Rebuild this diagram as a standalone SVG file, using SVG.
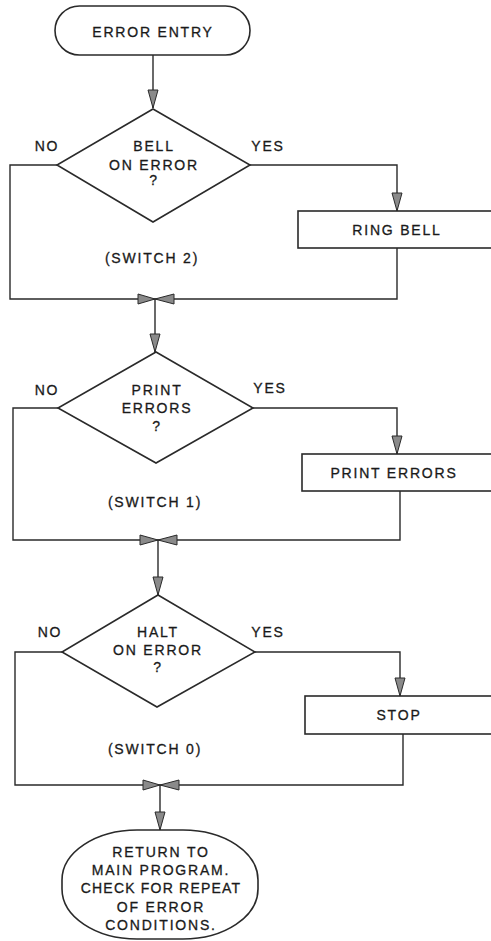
<svg xmlns="http://www.w3.org/2000/svg" width="491" height="941" viewBox="0 0 491 941">
<style>
.ln{fill:none;stroke:#2a2a2a;stroke-width:1.4}
.sh{fill:#fff;stroke:#2a2a2a;stroke-width:1.6}
.ah{fill:#8a8a8a;stroke:#2a2a2a;stroke-width:1}
text{font-family:"Liberation Sans",Arial,sans-serif;font-size:14px;fill:#1a1a1a;stroke:#1a1a1a;stroke-width:0.3;letter-spacing:1.8px;text-anchor:middle}
</style>
<rect width="491" height="941" fill="#fff"/>
<g id="connectors">
<path class="ln" d="M153,55 V108"/>
<path class="ln" d="M57,165 H10 V299 H153"/>
<path class="ln" d="M250,165 H397 V211"/>
<path class="ln" d="M397,248 V299 H153"/>
<path class="ln" d="M155,299 V352"/>
<path class="ln" d="M58,408 H13 V540 H157"/>
<path class="ln" d="M253,408 H397 V454"/>
<path class="ln" d="M400,491 V540 H157"/>
<path class="ln" d="M158,540 V595"/>
<path class="ln" d="M62,652 H15 V785 H160"/>
<path class="ln" d="M255,652 H400 V696"/>
<path class="ln" d="M403,734 V785 H160"/>
<path class="ln" d="M160,785 V830"/>
<polygon class="ah" points="148,90 158,90 153,108"/>
<polygon class="ah" points="392,193 402,193 397,211"/>
<polygon class="ah" points="150,334 160,334 155,352"/>
<polygon class="ah" points="392,436 402,436 397,454"/>
<polygon class="ah" points="153,577 163,577 158,595"/>
<polygon class="ah" points="395,678 405,678 400,696"/>
<polygon class="ah" points="155,812 165,812 160,830"/>
<polygon class="ah" points="138,294 138,304 155,299"/>
<polygon class="ah" points="174,294 174,304 155,299"/>
<polygon class="ah" points="140,535 140,545 158,540"/>
<polygon class="ah" points="177,535 177,545 158,540"/>
<polygon class="ah" points="143,780 143,790 160,785"/>
<polygon class="ah" points="179,780 179,790 160,785"/>
</g>
<g id="error-entry">
<rect class="sh" x="55" y="6" width="195" height="49" rx="24.5"/>
<text x="153" y="37">ERROR ENTRY</text>
</g>
<g id="bell-on-error">
<polygon class="sh" points="153,109 250,165 153,222 57,165"/>
<text x="154" y="151">BELL</text>
<text x="154" y="170">ON ERROR</text>
<text x="154" y="185">?</text>
<text x="47" y="151">NO</text>
<text x="268" y="151">YES</text>
<text x="152" y="263">(SWITCH 2)</text>
</g>
<g id="ring-bell">
<rect class="sh" x="298" y="211" width="200" height="37"/>
<text x="397" y="235">RING BELL</text>
</g>
<g id="print-errors-q">
<polygon class="sh" points="156,352 253,408 156,463 58,408"/>
<text x="157" y="395">PRINT</text>
<text x="157" y="413">ERRORS</text>
<text x="157" y="431">?</text>
<text x="47" y="395">NO</text>
<text x="270" y="393">YES</text>
<text x="155" y="507">(SWITCH 1)</text>
</g>
<g id="print-errors">
<rect class="sh" x="302" y="454" width="196" height="37"/>
<text x="394" y="478">PRINT ERRORS</text>
</g>
<g id="halt-on-error">
<polygon class="sh" points="158,595 255,652 157,707 62,652"/>
<text x="158" y="637">HALT</text>
<text x="158" y="655">ON ERROR</text>
<text x="158" y="672">?</text>
<text x="50" y="637">NO</text>
<text x="268" y="637">YES</text>
<text x="155" y="754">(SWITCH 0)</text>
</g>
<g id="stop">
<rect class="sh" x="305" y="696" width="193" height="38"/>
<text x="399" y="720">STOP</text>
</g>
<g id="return">
<rect class="sh" x="62" y="830" width="196" height="109" rx="75" ry="50"/>
<text x="161" y="857">RETURN TO</text>
<text x="161" y="875">MAIN PROGRAM.</text>
<text x="161" y="893" style="letter-spacing:1.2px">CHECK FOR REPEAT</text>
<text x="161" y="912">OF ERROR</text>
<text x="161" y="930">CONDITIONS.</text>
</g>
</svg>
